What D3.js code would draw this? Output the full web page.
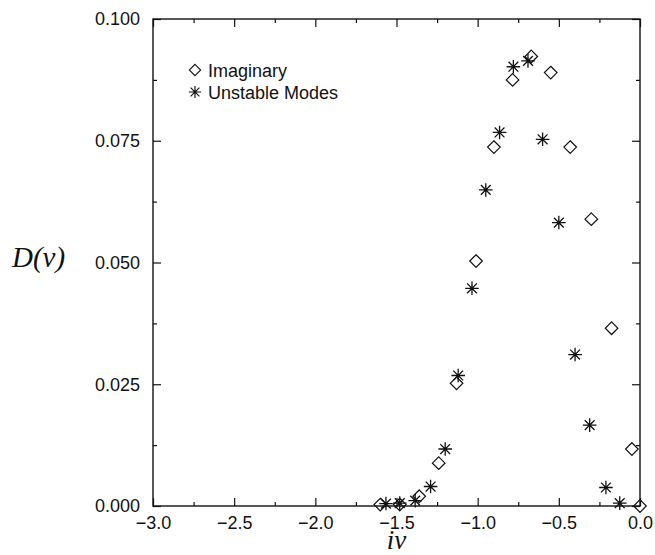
<!DOCTYPE html>
<html lang="en">
<head>
<meta charset="UTF-8">
<title>D(v) against iv</title>
<script src="https://cdnjs.cloudflare.com/ajax/libs/d3/7.8.5/d3.min.js"></script>
<style>
  body { margin: 0; background: #fff; }
</style>
</head>
<body>
<svg id="chart"></svg>
<script>
// data
var imagX = [-1.60, -1.48, -1.36, -1.24, -1.13, -1.01, -0.90, -0.785, -0.67, -0.55, -0.43, -0.30, -0.175, -0.05, 0.0]
var imagY = [0.0003, 0.0003, 0.0020, 0.0088, 0.0252, 0.0503, 0.0737, 0.0875, 0.0923, 0.0890, 0.0737, 0.0589, 0.0365, 0.0117, 0.0]

var unstX = [-1.565, -1.48, -1.385, -1.29, -1.20, -1.12, -1.035, -0.95, -0.865, -0.78, -0.69, -0.60, -0.50, -0.40, -0.31, -0.21, -0.125]
var unstY = [0.0005, 0.0006, 0.0011, 0.0040, 0.0117, 0.0268, 0.0447, 0.0649, 0.0767, 0.0902, 0.0914, 0.0753, 0.0582, 0.0311, 0.0166, 0.0038, 0.0006]

var xMajor = [-3.0, -2.5, -2.0, -1.5, -1.0, -0.5, 0.0]
var xMinor = [-2.75, -2.25, -1.75, -1.25, -0.75, -0.25]
var yMajor = [0.000, 0.025, 0.050, 0.075, 0.100]
var yMinor = [0.0125, 0.0375, 0.0625, 0.0875]

var legendLabels = ["Imaginary", "Unstable Modes"]

var W = 655, H = 555
var pL = 153, pR = 640, pT = 19, pB = 506

var svg = d3.select("#chart")
  .attr("width", W)
  .attr("height", H)

var x = d3.scaleLinear().domain([-3, 0]).range([pL, pR])
var y = d3.scaleLinear().domain([0, 0.1]).range([pB, pT])

var tickFont = "'Liberation Sans', Arial, Helvetica, sans-serif"

function styleAxis(g) {
  g.select(".domain").remove()
  g.selectAll("line").attr("stroke", "#111").attr("stroke-width", 1.2)
  g.selectAll("text").attr("font-family", tickFont).attr("font-size", 18).attr("fill", "#111")
}

// bottom axis with labels
svg.append("g")
  .attr("transform", "translate(0," + pB + ")")
  .call(d3.axisBottom(x).tickValues(xMajor).tickSize(-8).tickPadding(10).tickFormat(d3.format(".1f")))
  .call(styleAxis)
svg.append("g")
  .attr("transform", "translate(0," + pB + ")")
  .call(d3.axisBottom(x).tickValues(xMinor).tickSize(-4).tickFormat(""))
  .call(styleAxis)

// top axis, ticks only
svg.append("g")
  .attr("transform", "translate(0," + pT + ")")
  .call(d3.axisTop(x).tickValues(xMajor).tickSize(-8).tickFormat(""))
  .call(styleAxis)
svg.append("g")
  .attr("transform", "translate(0," + pT + ")")
  .call(d3.axisTop(x).tickValues(xMinor).tickSize(-4).tickFormat(""))
  .call(styleAxis)

// left axis with labels
svg.append("g")
  .attr("transform", "translate(" + pL + ",0)")
  .call(d3.axisLeft(y).tickValues(yMajor).tickSize(-8).tickPadding(13).tickFormat(d3.format(".3f")))
  .call(styleAxis)
svg.append("g")
  .attr("transform", "translate(" + pL + ",0)")
  .call(d3.axisLeft(y).tickValues(yMinor).tickSize(-4).tickFormat(""))
  .call(styleAxis)

// right axis, ticks only
svg.append("g")
  .attr("transform", "translate(" + pR + ",0)")
  .call(d3.axisRight(y).tickValues(yMajor).tickSize(-8).tickFormat(""))
  .call(styleAxis)
svg.append("g")
  .attr("transform", "translate(" + pR + ",0)")
  .call(d3.axisRight(y).tickValues(yMinor).tickSize(-4).tickFormat(""))
  .call(styleAxis)

// frame
svg.append("rect")
  .attr("x", pL)
  .attr("y", pT)
  .attr("width", pR - pL)
  .attr("height", pB - pT)
  .attr("fill", "none")
  .attr("stroke", "#111")
  .attr("stroke-width", 1.4)

// markers
var dm = 6.3
var diamondPath = "M0," + (-dm) + "L" + dm + ",0L0," + dm + "L" + (-dm) + ",0Z"
var r = 6.8, dg = r * 0.72
var starPath = "M0," + (-r) + "V" + r +
  "M" + (-r) + ",0H" + r +
  "M" + (-dg) + "," + (-dg) + "L" + dg + "," + dg +
  "M" + (-dg) + "," + dg + "L" + dg + "," + (-dg)

var imag = imagX.map(function(v, i) { return {x: v, y: imagY[i]} })
var unst = unstX.map(function(v, i) { return {x: v, y: unstY[i]} })

svg.append("g").selectAll("path")
  .data(imag).enter()
  .append("path")
  .attr("d", diamondPath)
  .attr("transform", function(p) { return "translate(" + x(p.x) + "," + y(p.y) + ")" })
  .attr("fill", "none")
  .attr("stroke", "#111")
  .attr("stroke-width", 1.2)

svg.append("g").selectAll("path")
  .data(unst).enter()
  .append("path")
  .attr("d", starPath)
  .attr("transform", function(p) { return "translate(" + x(p.x) + "," + y(p.y) + ")" })
  .attr("fill", "none")
  .attr("stroke", "#111")
  .attr("stroke-width", 1.3)

// legend
var leg = svg.append("g")
leg.append("path").attr("d", diamondPath)
  .attr("transform", "translate(195,70) scale(0.9)")
  .attr("fill", "none").attr("stroke", "#111").attr("stroke-width", 1.2)
leg.append("path").attr("d", starPath)
  .attr("transform", "translate(195,92) scale(0.9)")
  .attr("fill", "none").attr("stroke", "#111").attr("stroke-width", 1.3)
leg.selectAll("text")
  .data(legendLabels).enter()
  .append("text")
  .attr("x", 208)
  .attr("y", function(t, i) { return 76.5 + i * 22 })
  .attr("font-family", tickFont)
  .attr("font-size", 18)
  .attr("fill", "#111")
  .text(function(t) { return t })

// axis titles
var serif = "'Liberation Serif', 'Times New Roman', serif"
svg.append("text")
  .attr("x", 12)
  .attr("y", 267)
  .attr("font-family", serif)
  .attr("font-style", "italic")
  .attr("font-size", 29)
  .attr("fill", "#111")
  .text("D(v)")

svg.append("text")
  .attr("x", (pL + pR) / 2)
  .attr("y", 549)
  .attr("text-anchor", "middle")
  .attr("font-family", serif)
  .attr("font-style", "italic")
  .attr("font-size", 27)
  .attr("fill", "#111")
  .text("iv")
</script>
</body>
</html>
